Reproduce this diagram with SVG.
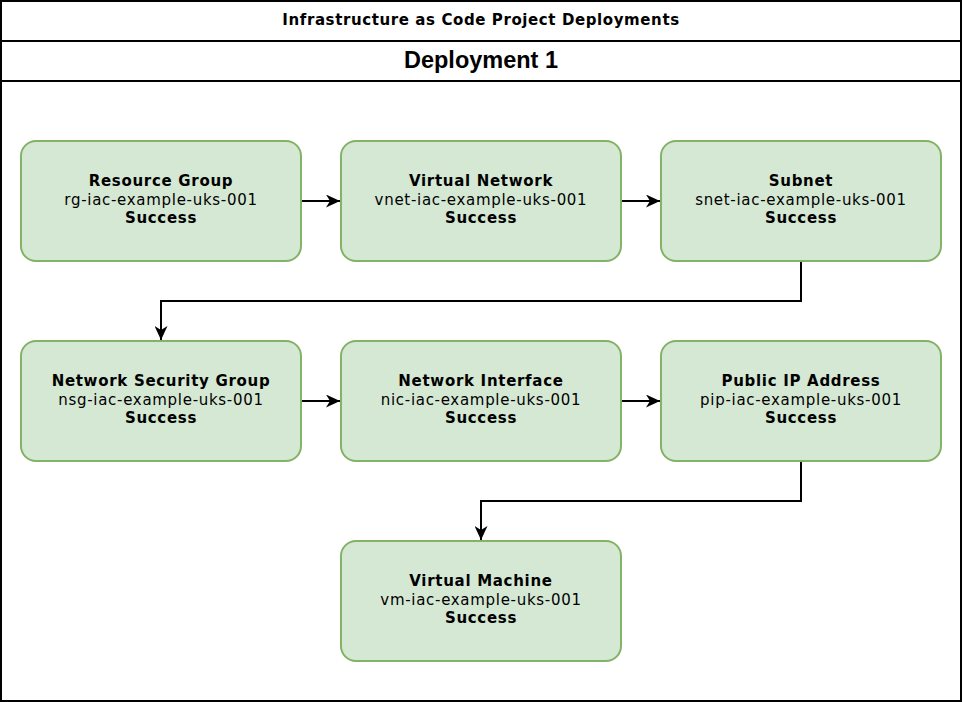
<svg xmlns="http://www.w3.org/2000/svg" width="964" height="702" viewBox="0 0 964 702">
<style>
.frame{fill:#ffffff;stroke:#000000;stroke-width:2}
.node rect{fill:#d5e8d4;stroke:#82b366;stroke-width:2}
.node text{font-family:"DejaVu Sans",Verdana,sans-serif;font-size:15px;letter-spacing:0.7px;text-anchor:middle;fill:#000000}
.b{font-weight:bold}
.conn path{fill:none;stroke:#000000;stroke-width:2}
</style>
<defs>
<marker id="arr" viewBox="0 0 14 13" refX="14" refY="6.5" markerWidth="14" markerHeight="13" orient="auto" markerUnits="userSpaceOnUse">
<path d="M0,0 L14,6.5 L0,13 L4,6.5 Z" fill="#000000"/>
</marker>
</defs>
<g id="frame">
<rect class="frame" x="1" y="1" width="960" height="700"/>
<line x1="1" y1="41" x2="961" y2="41" stroke="#000" stroke-width="2"/>
<line x1="1" y1="81" x2="961" y2="81" stroke="#000" stroke-width="2"/>
<text x="481" y="25" text-anchor="middle" font-family="DejaVu Sans,Verdana,sans-serif" font-size="15" letter-spacing="0.6" font-weight="bold">Infrastructure as Code Project Deployments</text>
<text x="481" y="68" text-anchor="middle" font-family="Liberation Sans,Arial,sans-serif" font-size="23.5" font-weight="bold">Deployment 1</text>
</g>
<g class="conn" id="connectors">
<path d="M301,201 H340" marker-end="url(#arr)"/>
<path d="M621,201 H660" marker-end="url(#arr)"/>
<path d="M801,261 V301 H161 V340" marker-end="url(#arr)"/>
<path d="M301,401 H340" marker-end="url(#arr)"/>
<path d="M621,401 H660" marker-end="url(#arr)"/>
<path d="M801,461 V501 H481 V540" marker-end="url(#arr)"/>
</g>
<g class="node" id="rg">
<rect x="21" y="141" width="280" height="120" rx="15"/>
<text x="161" y="186" class="b">Resource Group</text>
<text x="161" y="205">rg-iac-example-uks-001</text>
<text x="161" y="223" class="b">Success</text>
</g>
<g class="node" id="vnet">
<rect x="341" y="141" width="280" height="120" rx="15"/>
<text x="481" y="186" class="b">Virtual Network</text>
<text x="481" y="205">vnet-iac-example-uks-001</text>
<text x="481" y="223" class="b">Success</text>
</g>
<g class="node" id="snet">
<rect x="661" y="141" width="280" height="120" rx="15"/>
<text x="801" y="186" class="b">Subnet</text>
<text x="801" y="205">snet-iac-example-uks-001</text>
<text x="801" y="223" class="b">Success</text>
</g>
<g class="node" id="nsg">
<rect x="21" y="341" width="280" height="120" rx="15"/>
<text x="161" y="386" class="b">Network Security Group</text>
<text x="161" y="405">nsg-iac-example-uks-001</text>
<text x="161" y="423" class="b">Success</text>
</g>
<g class="node" id="nic">
<rect x="341" y="341" width="280" height="120" rx="15"/>
<text x="481" y="386" class="b">Network Interface</text>
<text x="481" y="405">nic-iac-example-uks-001</text>
<text x="481" y="423" class="b">Success</text>
</g>
<g class="node" id="pip">
<rect x="661" y="341" width="280" height="120" rx="15"/>
<text x="801" y="386" class="b">Public IP Address</text>
<text x="801" y="405">pip-iac-example-uks-001</text>
<text x="801" y="423" class="b">Success</text>
</g>
<g class="node" id="vm">
<rect x="341" y="541" width="280" height="120" rx="15"/>
<text x="481" y="586" class="b">Virtual Machine</text>
<text x="481" y="605">vm-iac-example-uks-001</text>
<text x="481" y="623" class="b">Success</text>
</g>
</svg>
